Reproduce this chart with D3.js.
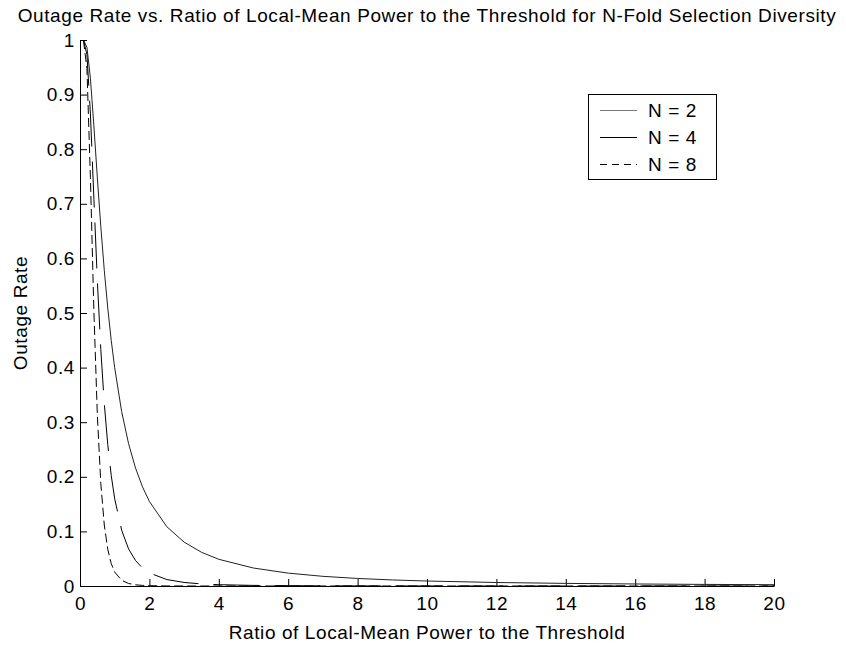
<!DOCTYPE html>
<html>
<head>
<meta charset="utf-8">
<script src="https://cdn.jsdelivr.net/npm/d3@7/dist/d3.min.js"></script>
<style>
  body { margin: 0; background: #fff; }
  text { font-family: "Liberation Sans", Arial, sans-serif; fill: #000; letter-spacing: 0.6px; }
</style>
</head>
<body>
<script>
// figure size
var width = 846,
    height = 645;

// plot area (pixels)
var margin = { top: 40, right: 72, bottom: 59, left: 80 };

// ratio of local-mean power to the threshold (x samples)
var ratio = [0.1, 0.2, 0.3, 0.4, 0.5, 0.6, 0.7, 0.8, 0.9, 1.0, 1.2, 1.4, 1.6, 1.8, 2.0,
    2.5, 3, 3.5, 4, 5, 6, 7, 8, 9, 10, 12, 14, 16, 18, 20];

// outage rate, one array per diversity order
var outageN2 = [0.9999, 0.9866, 0.9299, 0.8426, 0.7476, 0.6579, 0.5781, 0.5091, 0.4500, 0.3996,
    0.3197, 0.2606, 0.2160, 0.1817, 0.1548, 0.1087, 0.0804, 0.0618, 0.0489, 0.0329,
    0.0236, 0.0177, 0.0138, 0.0111, 0.0091, 0.0064, 0.0048, 0.0037, 0.0029, 0.0024];
var outageN4 = [0.9998, 0.9733, 0.8648, 0.7099, 0.5590, 0.4329, 0.3342, 0.2592, 0.2025, 0.1597,
    0.1022, 0.0679, 0.0467, 0.0330, 0.0240, 0.0118, 0.0065, 0.0038, 0.0024, 0.0011,
    0.0006, 0.0003, 0.0002, 0.0001, 0.0001, 0, 0, 0, 0, 0];
var outageN8 = [0.9996, 0.9474, 0.7478, 0.5040, 0.3125, 0.1874, 0.1117, 0.0672, 0.0410, 0.0255,
    0.0104, 0.0046, 0.0022, 0.0011, 0.0006, 0.0001, 0, 0, 0, 0,
    0, 0, 0, 0, 0, 0, 0, 0, 0, 0];

var seriesNames = ['N = 2', 'N = 4', 'N = 8'];

// tick labels
var xTicks = [0, 2, 4, 6, 8, 10, 12, 14, 16, 18, 20];
var yTicks = [0, 0.1, 0.2, 0.3, 0.4, 0.5, 0.6, 0.7, 0.8, 0.9, 1];
var yTickLabels = ['0', '0.1', '0.2', '0.3', '0.4', '0.5', '0.6', '0.7', '0.8', '0.9', '1'];

var titleText = 'Outage Rate vs. Ratio of Local-Mean Power to the Threshold for N-Fold Selection Diversity';
var xLabel = 'Ratio of Local-Mean Power to the Threshold';
var yLabel = 'Outage Rate';

// line styles per series
var plotStyle = [
    { color: '#222', dash: null },
    { color: '#000', dash: '46,15' },
    { color: '#000', dash: '9,4' }
];
var legendStyle = [
    { color: '#777', dash: null },
    { color: '#000', dash: null },
    { color: '#000', dash: '7,5' }
];

var fontSize = 19;

var svg = d3.select('body')
    .append('svg')
    .attr('width', width)
    .attr('height', height);

var x = d3.scaleLinear()
    .domain([0, 20])
    .range([margin.left, width - margin.right]);

var y = d3.scaleLinear()
    .domain([0, 1])
    .range([height - margin.bottom, margin.top]);

// axes, ticks point inward like matlab
var xAxis = d3.axisBottom(x)
    .tickValues(xTicks)
    .tickSizeInner(-7)
    .tickSizeOuter(0)
    .tickPadding(11)
    .tickFormat(d3.format('d'));

var yAxis = d3.axisLeft(y)
    .tickValues(yTicks)
    .tickSizeInner(-7)
    .tickSizeOuter(0)
    .tickPadding(5)
    .tickFormat(function(d, i) { return yTickLabels[i]; });

var gx = svg.append('g')
    .attr('transform', 'translate(0,' + (height - margin.bottom) + ')')
    .call(xAxis);

var gy = svg.append('g')
    .attr('transform', 'translate(' + margin.left + ',0)')
    .call(yAxis);

[gx, gy].forEach(function(g) {
    g.selectAll('path, line').attr('stroke', '#000').attr('stroke-width', 1);
    g.selectAll('text').style('font-size', fontSize + 'px').attr('fill', '#000');
});

// curves
var series = [outageN2, outageN4, outageN8];

var line = d3.line()
    .x(function(d) { return x(d[0]); })
    .y(function(d) { return y(d[1]); });

series.forEach(function(vals, i) {
    var pts = ratio.map(function(r, j) { return [r, vals[j]]; });
    svg.append('path')
        .datum(pts)
        .attr('fill', 'none')
        .attr('stroke', plotStyle[i].color)
        .attr('stroke-width', 1)
        .attr('stroke-dasharray', plotStyle[i].dash)
        .attr('d', line);
});

// title and axis labels
var midX = (x.range()[0] + x.range()[1]) / 2;

svg.append('text')
    .attr('x', midX)
    .attr('y', 22)
    .attr('text-anchor', 'middle')
    .style('font-size', fontSize + 'px')
    .text(titleText);

svg.append('text')
    .attr('x', midX)
    .attr('y', 639)
    .attr('text-anchor', 'middle')
    .style('font-size', fontSize + 'px')
    .text(xLabel);

svg.append('text')
    .attr('transform', 'translate(27,' + ((y.range()[0] + y.range()[1]) / 2) + ') rotate(-90)')
    .attr('text-anchor', 'middle')
    .style('font-size', fontSize + 'px')
    .text(yLabel);

// legend box
var legend = svg.append('g').attr('transform', 'translate(588,94)');

legend.append('rect')
    .attr('x', 0.5)
    .attr('y', 0.5)
    .attr('width', 128)
    .attr('height', 85)
    .attr('fill', '#fff')
    .attr('stroke', '#000');

seriesNames.forEach(function(name, i) {
    var ly = 16.5 + i * 27;
    legend.append('line')
        .attr('x1', 12)
        .attr('x2', 49)
        .attr('y1', ly)
        .attr('y2', ly)
        .attr('stroke', legendStyle[i].color)
        .attr('stroke-dasharray', legendStyle[i].dash);
    legend.append('text')
        .attr('x', 60)
        .attr('y', ly)
        .attr('dy', '0.35em')
        .style('font-size', fontSize + 'px')
        .text(name);
});
</script>
</body>
</html>
